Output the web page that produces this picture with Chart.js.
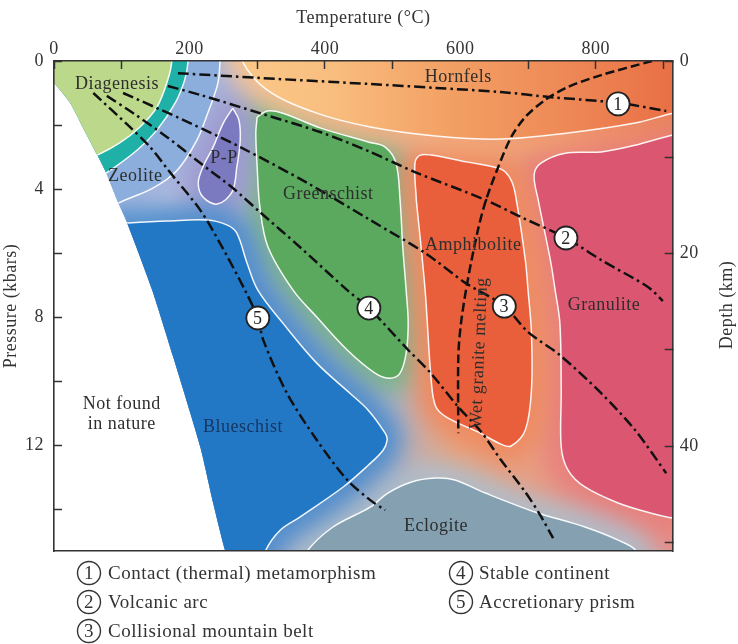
<!DOCTYPE html>
<html><head><meta charset="utf-8">
<style>html,body{margin:0;padding:0;background:#fff}canvas{display:block}</style>
<script src="https://cdn.jsdelivr.net/npm/chart.js@4/dist/chart.umd.min.js"></script>
</head><body><canvas id="c" width="738" height="644"></canvas>
<script>
const FONT = '"Liberation Serif"';
const INK = '#333';
// axes
const tempTicks = [0,100,200,300,400,500,600,700,800,900];
const tempLabels = [0,200,400,600,800];
const pressTicks = [0,2,4,6,8,10,12,14];
const pressLabels = [0,4,8,12];
const depthTicks = [0,10,20,30,40,50];
const depthLabels = [0,20,40];
// [°C, kbar] outlines
const domainEdge = [[1000,-1],[-60,-1],[-30,0.05],[0,0.69],[24,1.31],[43,2.09],[64,2.94],[77,3.5],[95,4.44],[108,5.06],[145,7.16],[176,9.25],[216,12.06],[235,13.81],[253,15.31],[275,16.5],[1000,17],[1000,-1]];
const diagenesis = [[174,-1],[174,0],[168,.59],[152,1.44],[127,2.06],[97,2.56],[64,2.94],[20,3.3],[-50,3.4],[-50,-1],[174,-1]];
const contactBand = [[198,-1],[198,0],[193,.59],[179,1.31],[152,2.16],[123,2.78],[77,3.5],[30,4.1],[-50,4.2],[-50,-1],[198,-1]];
const zeolite = [[246,-1],[245,0],[242,.69],[227,1.63],[211,2.47],[182,3.41],[146,3.97],[95,4.44],[60,4.9],[-50,5],[-50,-1],[246,-1]];
const prehnitePumpellyite = [[264,1.47],[273,1.84],[275,2.47],[270,3.31],[263,4.09],[241,4.47],[220,4.25],[213,3.81],[220,3.31],[235,2.69],[250,1.94],[264,1.47]];
const greenschist = [[300,1.75],[315,1.56],[338,1.63],[393,2.09],[464,2.53],[489,2.69],[505,3.19],[511,4.34],[515,5.81],[520,7.16],[523,8.19],[520,9.13],[511,9.75],[496,9.91],[474,9.75],[433,9.03],[388,8.0],[353,7.16],[316,5.81],[304,4.56],[300,3.31],[298,2.25],[300,1.75]];
const hornfels = [[270,-1],[278,0],[315,.91],[388,1.63],[467,2.06],[563,2.34],[660,2.44],[759,2.25],[858,1.94],[914,1.63],[1000,1.3],[1000,-1],[270,-1]];
const granulite = [[1000,2],[914,2.31],[858,2.63],[808,2.84],[755,2.88],[719,3.19],[709,3.56],[715,4.34],[733,6.22],[740,7.16],[747,8.19],[749,10.28],[749,12.06],[759,12.78],[784,13.31],[833,13.81],[882,14.13],[914,14.28],[1000,14.4],[1000,2]];
const amphibolite = [[535,4.34],[533,3.19],[541,2.94],[557,2.94],[611,3.16],[660,3.38],[675,3.72],[682,4.25],[696,6.22],[700,7.16],[705,8.5],[705,10.28],[696,11.53],[675,12.03],[660,11.97],[626,11.59],[582,11.16],[564,10.81],[557,9.97],[548,7.16],[535,4.34]];
const blueschist = [[80,5.1],[108,5.06],[167,5.0],[226,4.97],[256,5.13],[270,5.38],[285,6.31],[301,7.16],[338,8.19],[388,9.44],[437,10.38],[464,10.91],[489,11.63],[492,11.84],[486,12.16],[464,12.63],[427,13.31],[363,14.25],[334,14.66],[312,15.31],[290,16.6],[100,17],[80,5.1]];
const eclogite = [[360,16],[374,15.31],[412,14.56],[467,13.94],[493,13.5],[527,13.16],[563,13.03],[592,13.09],[637,13.5],[710,14.09],[784,14.56],[833,14.97],[860,15.31],[870,16],[360,16]];
// geotherms
const contactPath = [[183,.38],[304,.53],[467,.72],[563,.84],[660,.97],[734,1.13],[833,1.31],[904,1.56]];
const arcPath = [[168,.78],[216,1.06],[304,1.63],[393,2.22],[467,2.84],[533,3.47],[637,4.34],[690,4.88],[756,5.53],[808,6.22],[877,7.06],[899,7.5]];
const collisionPath = [[102,1.0],[152,1.47],[201,1.94],[275,2.69],[374,3.81],[467,4.97],[548,6.0],[608,6.94],[665,7.66],[700,8.47],[747,9.19],[808,10.38],[858,11.53],[904,12.88]];
const continentPath = [[78,1.09],[117,1.63],[167,2.38],[216,3.19],[264,3.97],[304,4.72],[363,5.81],[433,7.16],[465,7.72],[523,9.03],[555,9.72],[597,10.81],[631,11.59],[660,12.47],[696,13.47],[718,14.19],[737,14.91]];
const prismPath = [[58,1.0],[112,2.06],[142,2.69],[171,3.47],[216,4.66],[245,5.69],[282,7.16],[301,8.03],[309,8.72],[344,10.38],[388,11.84],[433,13.09],[467,13.72],[489,14.03]];
const wetGraniteMelting = [[883,0],[808,.44],[759,.81],[725,1.22],[696,1.75],[675,2.38],[656,3.31],[638,4.34],[626,5.28],[611,6.84],[601,8.19],[597,9.25],[597,11.63]];
const pathMarkers = [[833,1.34,'1'],[756,5.53,'2'],[665,7.66,'3'],[465,7.72,'4'],[301,8.03,'5']];
// labels in the plot
const faciesLabels = [['Diagenesis',93,.72],['Hornfels',597,.5],['Zeolite',120,3.59],['P-P',251,3.03],['Greenschist',405,4.16],['Amphibolite',619,5.75],['Granulite',812,7.63],['Blueschist',279,11.44],['Eclogite',564,14.53],['Not found',100,10.72],['in nature',100,11.34]];
const meltLabel = ['Wet granite melting',628,9.13];
const legendNames = ['Contact (thermal) metamorphism','Volcanic arc','Collisional mountain belt','Stable continent','Accretionary prism'];

const pts = a => a.map(p => ({x:p[0], y:p[1]}));
function tempGradient(chart,stops,from,to){
  const x = chart.scales.x;
  const g = chart.ctx.createLinearGradient(x.getPixelForValue(from),0,x.getPixelForValue(to),0);
  stops.forEach((s,i)=>g.addColorStop(i/(stops.length-1),s));
  return g;
}
function hornfelsFill(stops){
  return c => (c.chart.scales.x && c.chart.chartArea) ? tempGradient(c.chart,stops,250,914) : stops[0];
}
const hornfelsColors = ['#fbca8b','#f8bd7e','#f3a064','#ee8a57','#e96f45'];
const hornfelsGlow = ['#f8c690','#f6b686','#f3a878','#f09a6e','#ea8058'];
const baseColors = ['#e4e6f0','#c6c6e0','#b6b6d6','#b0b4c8','#b4b4c4','#e9a580','#e9a084','#e8908a'];
const region = (label,data,color,glow,extra) => Object.assign({label,data:pts(data),showLine:true,fill:'shape',backgroundColor:color,borderColor:'rgba(255,255,255,.92)',borderWidth:1.5,tension:.35,pointRadius:0,glow},extra||{});
const path = (label,data,dash) => ({label,data:pts(data),showLine:true,fill:false,borderColor:'#111',borderWidth:2.5,borderDash:dash,tension:.3,pointRadius:0});
const DASHDOT = [11,4,2.5,4];
const painter = [
  {label:'domain',data:pts(domainEdge),showLine:true,fill:false,borderWidth:0,tension:.2,pointRadius:0,isDomain:true},
  region('Zeolite',zeolite,'#8caedd','#a4b4de'),
  region('Contact band',contactBand,'#1fb1a8'),
  region('Diagenesis',diagenesis,'#bcd98b'),
  region('Greenschist',greenschist,'#5ba85f','#7db58a'),
  region('P-P',prehnitePumpellyite,'#7b79c0','#9c9ad0'),
  region('Granulite',granulite,'#db5670','#e8807c'),
  region('Amphibolite',amphibolite,'#e95f3c','#ee8a60'),
  region('Hornfels',hornfels,hornfelsFill(hornfelsColors),hornfelsFill(hornfelsGlow)),
  region('Eclogite',eclogite,'#84a0b1','#aebdcb'),
  region('Blueschist',blueschist,'#2378c5','#4d8ccc'),
  path('Wet granite melting',wetGraniteMelting,[9,4]),
  path('Contact',contactPath,DASHDOT),
  path('Volcanic arc',arcPath,DASHDOT),
  path('Collisional',collisionPath,DASHDOT),
  path('Stable continent',continentPath,DASHDOT),
  path('Accretionary prism',prismPath,DASHDOT),
  {label:'markers',data:pathMarkers.map(m=>({x:m[0],y:m[1]})),showLine:false,pointRadius:11.5,pointBackgroundColor:'#fff',pointBorderColor:'#222',pointBorderWidth:1.8}
];
const setTicks = (vals) => s => { s.ticks = vals.map(v=>({value:v})); };

const art = {
  id:'art',
  beforeDraw(ch){ ch.ctx.letterSpacing='0.5px'; },
  beforeDatasetsDraw(ch){
    const ctx = ch.ctx, a = ch.chartArea;
    const metas = painter.map((d,i)=>ch.getDatasetMeta(painter.length-1-i));
    const tracePath = m => { m.dataset.updateControlPoints(a,'x'); ctx.beginPath(); m.dataset.path(ctx); ctx.closePath(); };
    ctx.save();
    ctx.beginPath(); ctx.rect(a.left,a.top,a.width,a.height); ctx.clip();
    tracePath(metas[0]); ctx.clip();
    ctx.fillStyle=tempGradient(ch,baseColors,90,800); ctx.fillRect(a.left,a.top,a.width,a.height);
    painter.forEach((d,i)=>{
      if(!d.glow) return;
      const col = typeof d.glow==='function' ? d.glow({chart:ch}) : d.glow;
      ctx.save();
      ctx.filter='blur(13px)';
      tracePath(metas[i]);
      ctx.fillStyle=col; ctx.strokeStyle=col; ctx.lineWidth=28; ctx.lineJoin='round';
      ctx.fill(); ctx.stroke();
      ctx.restore();
    });
  },
  afterDatasetsDraw(ch){
    const ctx = ch.ctx, sx = ch.scales.x, sy = ch.scales.y;
    ctx.restore();
    ctx.save();
    ctx.font = '18px '+FONT; ctx.textAlign='center'; ctx.textBaseline='middle'; ctx.fillStyle='#2e2e2e';
    faciesLabels.forEach(l=>{
      ctx.fillStyle = l[0]==='Blueschist' ? '#16355f' : '#2e2e2e';
      ctx.fillText(l[0],sx.getPixelForValue(l[1]),sy.getPixelForValue(l[2]));
    });
    ctx.fillStyle='#2e2e2e';
    ctx.save();
    ctx.translate(sx.getPixelForValue(meltLabel[1]),sy.getPixelForValue(meltLabel[2]));
    ctx.rotate(-Math.PI/2+0.04);
    ctx.fillText(meltLabel[0],0,0);
    ctx.restore();
    ctx.fillStyle='#222';
    pathMarkers.forEach(m=>ctx.fillText(m[2],sx.getPixelForValue(m[0]),sy.getPixelForValue(m[1])+1));
    // right axis title
    ctx.fillStyle=INK;
    ctx.save(); ctx.translate(727,305); ctx.rotate(-Math.PI/2); ctx.fillText('Depth (km)',0,0); ctx.restore();
    // key
    ctx.font = '19px '+FONT;
    const rows=[[89,573,108],[89,602,108],[89,631,108],[461,573,479],[461,602,479]];
    legendNames.forEach((n,i)=>{
      const r=rows[i];
      ctx.beginPath(); ctx.arc(r[0],r[1],11.5,0,Math.PI*2); ctx.lineWidth=1.4; ctx.strokeStyle='#333'; ctx.stroke();
      ctx.textAlign='center'; ctx.fillStyle=INK; ctx.fillText(String(i+1),r[0],r[1]+1);
      ctx.textAlign='left'; ctx.fillText(n,r[2],r[1]+1);
    });
    ctx.restore();
  }
};
const tickFont = {family:FONT,size:18};
const grid = {drawOnChartArea:false,tickLength:-8,tickWidth:1.5,tickColor:INK,z:2};
const border = {display:true,color:'#333',width:1.6,z:2};
new Chart(document.getElementById('c'),{
  type:'scatter',
  data:{datasets:painter.slice().reverse()},
  plugins:[art],
  options:{
    responsive:false,animation:false,devicePixelRatio:1,
    layout:{padding:0},
    elements:{line:{capBezierPoints:false}},
    plugins:{legend:{display:false},tooltip:{enabled:false}},
    scales:{
      x:{type:'linear',position:'top',min:0,max:913.6,
        afterFit:s=>{s.height=61},afterBuildTicks:setTicks(tempTicks),
        ticks:{autoSkip:false,maxRotation:0,padding:9,color:INK,font:tickFont,callback:v=>tempLabels.includes(v)?String(v):''},
        grid:Object.assign({},grid,{tickColor:c=>(c.tick&&(c.tick.value===200||c.tick.value===600))?'transparent':INK}),border,
        title:{display:true,text:'Temperature (°C)',color:INK,font:tickFont,padding:{top:7,bottom:0}}},
      xb:{type:'linear',position:'bottom',min:0,max:913.6,afterFit:s=>{s.height=93},
        ticks:{display:false},grid:{drawOnChartArea:false,drawTicks:false},border},
      y:{type:'linear',position:'left',min:0,max:15.31,reverse:true,
        afterFit:s=>{s.width=54},afterBuildTicks:setTicks(pressTicks),
        ticks:{autoSkip:false,padding:18,color:INK,font:tickFont,callback:v=>pressLabels.includes(v)?String(v):''},
        grid,border,
        title:{display:true,text:'Pressure (kbars)',color:INK,font:tickFont,padding:0}},
      yr:{type:'linear',position:'right',min:0,max:50.9,reverse:true,
        afterFit:s=>{s.width=65.3},afterBuildTicks:setTicks(depthTicks),
        ticks:{autoSkip:false,padding:15,color:INK,font:tickFont,callback:v=>depthLabels.includes(v)?String(v):''},
        grid,border}
    }
  }
});
</script></body></html>
